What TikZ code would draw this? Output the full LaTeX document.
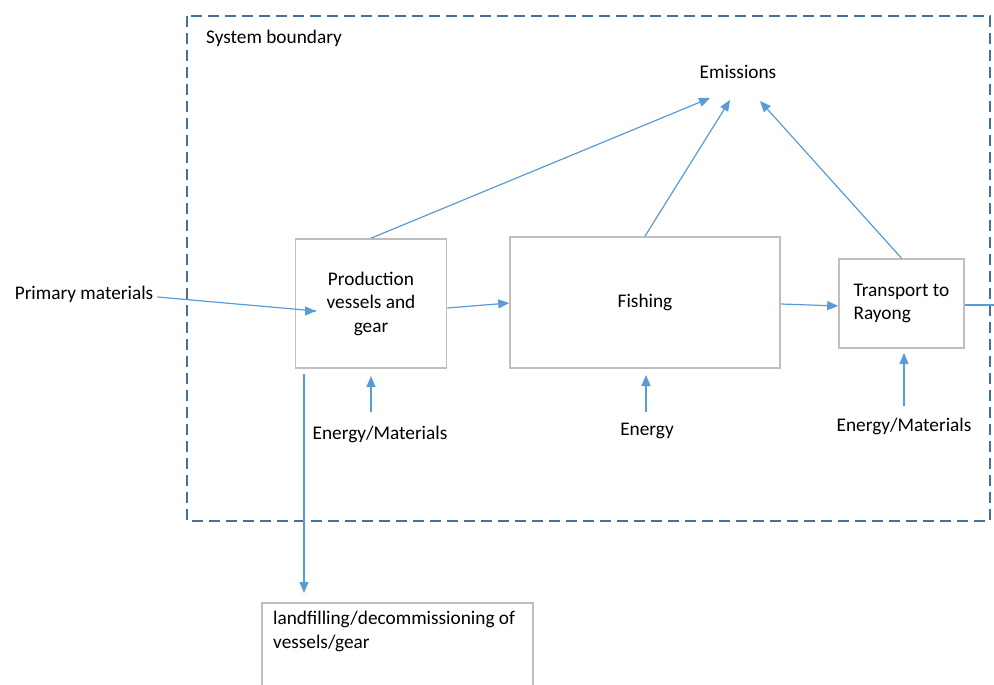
\documentclass[tikz,border=0pt]{standalone}
\usepackage{fontspec}
\setmainfont{Carlito}
\usetikzlibrary{arrows.meta}
\definecolor{arr}{HTML}{5B9BD5}
\definecolor{bnd}{HTML}{41719C}
\definecolor{bx}{HTML}{BFBFBF}
\begin{document}
\begin{tikzpicture}[x=1pt,y=-1pt,
  every node/.style={font=\fontsize{19.3}{23.5}\selectfont, text=black},
  box/.style={draw=bx, line width=1.6pt, inner sep=0pt},
  flow/.style={draw=arr, line width=1.2pt, -{Triangle[length=11pt,width=9pt]}},
  plain/.style={draw=arr, line width=1.2pt},
  lbl/.style={inner sep=1pt}]
\useasboundingbox (0,0) rectangle (994,685);
\clip (0,0) rectangle (994,685);
\fill[white] (0,0) rectangle (994,685);
% system boundary
\draw[bnd, line width=1.5pt, dash pattern=on 11pt off 6pt] (187,16) rectangle (990,521);
\node[lbl, anchor=west] (sb) at (205,38) {System boundary};
% boxes
\node[box, minimum width=151pt, minimum height=129pt, align=center] (prod) at (371,303.5) {Production\\vessels and\\gear};
\node[box, minimum width=270pt, minimum height=131pt] (fish) at (645,302.5) {Fishing};
\node[box, minimum width=125pt, minimum height=89pt, align=left] (trans) at (901.5,303.5) {Transport to\\Rayong};
\node[box, minimum width=271pt, minimum height=110pt, anchor=north west] (land) at (261,602) {};
\node[lbl, anchor=north west, align=left] (landt) at (272,610) {landfilling/decommissioning of\\vessels/gear};
% labels
\node[lbl] (emis) at (738,72) {Emissions};
\node[lbl] (prim) at (84,294) {Primary materials};
\node[lbl] (em1) at (380,434) {Energy/Materials};
\node[lbl] (en) at (647,431) {Energy};
\node[lbl] (em2) at (904,426) {Energy/Materials};
% coordinates
\coordinate (ptip) at (316,311);
\coordinate (e1) at (710,98);
\coordinate (e2) at (730,100);
\coordinate (e3) at (760,101);
\coordinate (p1) at (371,412);
\coordinate (p1t) at (371,376);
\coordinate (f1) at (646,412);
\coordinate (f1t) at (646,375);
\coordinate (t1) at (904,406);
\coordinate (t1t) at (904,353);
\coordinate (dtop) at (304,374);
\coordinate (dtip) at (304,593);
\coordinate (out) at (996,305);
% connectors
\draw[plain] (prim.east) ++(3,3) -- (ptip);
\draw[flow] (ptip) ++(-1,0) -- (ptip);
\draw[flow] (prod.east |- 0,308) -- (fish.west |- 0,303);
\draw[flow] (fish.east |- 0,304) -- (trans.west |- 0,306);
\draw[plain] (trans.east |- 0,305) -- (out);
\draw[flow] (prod.north) -- (e1);
\draw[flow] (fish.north) -- (e2);
\draw[flow] (trans.north) -- (e3);
\draw[flow] (p1) -- (p1t);
\draw[flow] (f1) -- (f1t);
\draw[flow] (t1) -- (t1t);
\draw[flow] (dtop) -- (dtip);
\end{tikzpicture}
\end{document}
